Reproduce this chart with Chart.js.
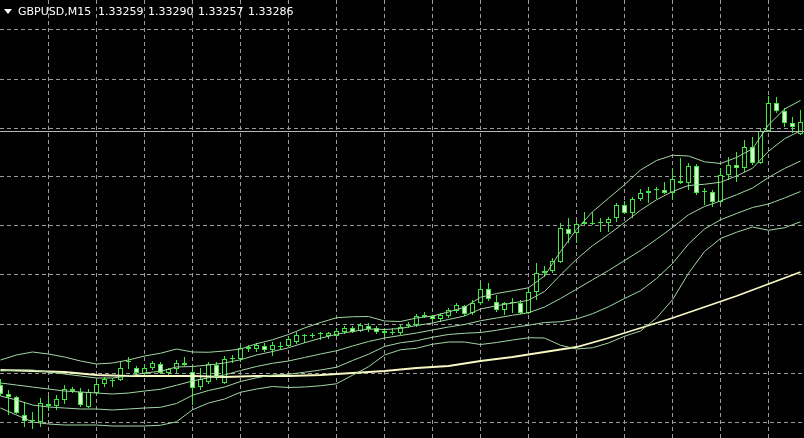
<!DOCTYPE html>
<html>
<head>
<meta charset="utf-8">
<script src="https://cdn.jsdelivr.net/npm/chart.js@4.4.0/dist/chart.umd.min.js"></script>
<style>
html, body { margin:0; padding:0; background:#000; }
#caja { width:804px; height:438px; }
</style>
</head>
<body>
<div id="caja"><canvas id="chartGbp" width="804" height="438"></canvas></div>
<script>
var simbolo = 'GBPUSD,M15'
var cabecera = ['1.33259','1.33290','1.33257','1.33286']
var precioBid = 1.33286

// velas M15, una por indice
var abre = [1.32272,1.32236,1.32224,1.32152,1.32128,1.32124,1.32188,1.32188,1.32212,1.32256,
    1.32244,1.32184,1.32240,1.32276,1.32288,1.32292,1.32364,1.32340,1.32316,1.32340,
    1.32356,1.32320,1.32336,1.32360,1.32324,1.32264,1.32284,1.32352,1.32280,1.32376,
    1.32376,1.32416,1.32416,1.32428,1.32412,1.32424,1.32428,1.32444,1.32468,1.32468,
    1.32476,1.32468,1.32468,1.32484,1.32500,1.32488,1.32508,1.32500,1.32488,1.32480,
    1.32480,1.32508,1.32512,1.32552,1.32548,1.32536,1.32548,1.32568,1.32588,1.32560,
    1.32600,1.32656,1.32604,1.32572,1.32600,1.32600,1.32560,1.32644,1.32728,1.32728,
    1.32764,1.32896,1.32880,1.32924,1.32916,1.32920,1.32920,1.32940,1.32992,1.32960,
    1.33016,1.33048,1.33052,1.33052,1.33040,1.33088,1.33080,1.33148,1.33044,1.33044,
    1.33004,1.33112,1.33152,1.33140,1.33224,1.33160,1.33288,1.33400,1.33368,1.33320,
    1.33276]
var alto = [1.32296,1.32252,1.32228,1.32200,1.32164,1.32220,1.32228,1.32232,1.32272,1.32264,
    1.32260,1.32256,1.32296,1.32304,1.32300,1.32364,1.32384,1.32348,1.32352,1.32368,
    1.32364,1.32340,1.32372,1.32384,1.32344,1.32340,1.32364,1.32364,1.32388,1.32392,
    1.32432,1.32432,1.32440,1.32440,1.32444,1.32444,1.32468,1.32484,1.32476,1.32480,
    1.32484,1.32484,1.32500,1.32508,1.32508,1.32520,1.32520,1.32508,1.32500,1.32500,
    1.32512,1.32524,1.32556,1.32564,1.32552,1.32560,1.32580,1.32600,1.32592,1.32612,
    1.32684,1.32680,1.32632,1.32604,1.32620,1.32612,1.32660,1.32760,1.32748,1.32780,
    1.32920,1.32940,1.32928,1.32964,1.32964,1.32940,1.32944,1.33000,1.33008,1.33024,
    1.33056,1.33064,1.33064,1.33084,1.33140,1.33180,1.33160,1.33156,1.33060,1.33052,
    1.33140,1.33184,1.33204,1.33252,1.33264,1.33300,1.33428,1.33424,1.33380,1.33344,
    1.33372]
var bajo = [1.32228,1.32152,1.32156,1.32104,1.32096,1.32104,1.32168,1.32172,1.32196,1.32240,
    1.32184,1.32180,1.32232,1.32264,1.32264,1.32288,1.32336,1.32308,1.32304,1.32332,
    1.32316,1.32308,1.32320,1.32348,1.32192,1.32252,1.32276,1.32292,1.32276,1.32360,
    1.32364,1.32404,1.32404,1.32404,1.32388,1.32412,1.32424,1.32436,1.32440,1.32460,
    1.32452,1.32456,1.32464,1.32476,1.32480,1.32484,1.32484,1.32476,1.32464,1.32472,
    1.32472,1.32500,1.32504,1.32540,1.32524,1.32524,1.32540,1.32560,1.32548,1.32552,
    1.32592,1.32608,1.32564,1.32552,1.32560,1.32556,1.32556,1.32612,1.32704,1.32720,
    1.32760,1.32840,1.32840,1.32912,1.32912,1.32884,1.32884,1.32924,1.32956,1.32940,
    1.33008,1.33000,1.33016,1.33036,1.33012,1.33076,1.33052,1.33032,1.32992,1.32984,
    1.33000,1.33092,1.33084,1.33124,1.33152,1.33156,1.33284,1.33360,1.33304,1.33280,
    1.33272]
var cierra = [1.32236,1.32224,1.32160,1.32128,1.32132,1.32200,1.32196,1.32216,1.32256,1.32248,
    1.32192,1.32244,1.32276,1.32296,1.32292,1.32340,1.32368,1.32320,1.32340,1.32360,
    1.32320,1.32336,1.32360,1.32352,1.32260,1.32296,1.32356,1.32300,1.32376,1.32380,
    1.32420,1.32424,1.32432,1.32412,1.32432,1.32428,1.32456,1.32472,1.32472,1.32472,
    1.32480,1.32480,1.32488,1.32500,1.32484,1.32512,1.32496,1.32484,1.32480,1.32484,
    1.32504,1.32512,1.32548,1.32544,1.32536,1.32552,1.32572,1.32592,1.32556,1.32600,
    1.32656,1.32616,1.32572,1.32600,1.32604,1.32560,1.32644,1.32720,1.32720,1.32768,
    1.32900,1.32876,1.32916,1.32916,1.32920,1.32924,1.32936,1.32992,1.32960,1.33016,
    1.33040,1.33040,1.33056,1.33040,1.33096,1.33080,1.33148,1.33040,1.33048,1.33004,
    1.33112,1.33152,1.33140,1.33224,1.33160,1.33288,1.33400,1.33368,1.33320,1.33304,
    1.33324]

// Bollinger 20 (desv. 1 y 2), un valor cada 2 velas
var bandaSup2 = [1.32372,1.32392,1.32404,1.32396,1.32384,1.32368,1.32356,1.32360,1.32372,1.32388,
    1.32399,1.32416,1.32404,1.32403,1.32408,1.32416,1.32437,1.32453,1.32474,1.32500,
    1.32522,1.32541,1.32545,1.32546,1.32528,1.32526,1.32540,1.32548,1.32564,1.32583,
    1.32623,1.32638,1.32649,1.32661,1.32708,1.32806,1.32894,1.32965,1.33019,1.33073,
    1.33132,1.33170,1.33191,1.33188,1.33165,1.33158,1.33182,1.33217,1.33312,1.33376,
    1.33410]
var bandaSup1 = [1.32328,1.32332,1.32332,1.32324,1.32316,1.32308,1.32300,1.32300,1.32308,1.32320,
    1.32327,1.32344,1.32346,1.32352,1.32360,1.32373,1.32392,1.32406,1.32421,1.32441,
    1.32459,1.32475,1.32486,1.32496,1.32494,1.32498,1.32510,1.32520,1.32534,1.32548,
    1.32576,1.32589,1.32600,1.32611,1.32646,1.32712,1.32775,1.32829,1.32874,1.32922,
    1.32971,1.33013,1.33046,1.33070,1.33075,1.33083,1.33108,1.33139,1.33207,1.33257,
    1.33289]
var bandaMedia = [1.32280,1.32272,1.32264,1.32256,1.32248,1.32244,1.32240,1.32236,1.32240,1.32248,
    1.32255,1.32271,1.32288,1.32301,1.32312,1.32330,1.32346,1.32359,1.32368,1.32382,
    1.32396,1.32409,1.32428,1.32446,1.32460,1.32470,1.32480,1.32492,1.32504,1.32514,
    1.32529,1.32540,1.32551,1.32561,1.32584,1.32618,1.32655,1.32693,1.32730,1.32770,
    1.32810,1.32855,1.32902,1.32953,1.32986,1.33008,1.33033,1.33060,1.33102,1.33138,
    1.33168]
var bandaInf1 = [1.32228,1.32212,1.32192,1.32184,1.32180,1.32176,1.32176,1.32172,1.32176,1.32180,
    1.32183,1.32198,1.32231,1.32250,1.32264,1.32286,1.32301,1.32312,1.32315,1.32323,
    1.32332,1.32343,1.32370,1.32395,1.32426,1.32441,1.32449,1.32463,1.32474,1.32479,
    1.32482,1.32491,1.32502,1.32511,1.32522,1.32525,1.32536,1.32557,1.32585,1.32618,
    1.32649,1.32698,1.32758,1.32836,1.32896,1.32933,1.32958,1.32982,1.32996,1.33020,
    1.33046]
var bandaInf2 = [1.32180,1.32152,1.32124,1.32116,1.32112,1.32112,1.32112,1.32108,1.32108,1.32108,
    1.32111,1.32125,1.32173,1.32200,1.32216,1.32243,1.32256,1.32266,1.32262,1.32264,
    1.32269,1.32277,1.32311,1.32345,1.32392,1.32413,1.32419,1.32435,1.32444,1.32444,
    1.32434,1.32442,1.32452,1.32461,1.32460,1.32431,1.32416,1.32421,1.32440,1.32467,
    1.32488,1.32540,1.32613,1.32719,1.32806,1.32858,1.32883,1.32904,1.32891,1.32901,
    1.32925]

// media lenta (amarilla), un valor cada 4 velas
var mediaLenta = [1.32332,1.32328,1.32324,1.32312,1.32308,1.32308,1.32308,1.32304,1.32308,1.32308,
    1.32312,1.32320,1.32328,1.32340,1.32348,1.32368,1.32384,1.32404,1.32424,1.32460,
    1.32500,1.32540,1.32584,1.32628,1.32676,1.32724]

// lineas de la rejilla
var rejillaY = [1.32124,1.32320,1.32516,1.32712,1.32908,1.33104,1.33300,1.33496,1.33692]
var rejillaX = [6,12,18,24,30,36,42,48,54,60,66,72,78,84,90,96]

var verde = '#3fe83f'
var blancoVela = '#d8fad0'
var colorBanda = '#a3d6a3'

var velas = abre.map(function(v, i){ return i })

function serie(valores, paso){
    return valores.map(function(v, k){ return {x: k * paso, y: v} })
}

function linea(valores, paso, color, ancho){
    return {
        type: 'line',
        data: serie(valores, paso),
        borderColor: color,
        borderWidth: ancho,
        pointRadius: 0,
        tension: 0,
        order: 0
    }
}

var fondo = {
    id: 'fondo',
    beforeDraw: function(chart){
        let c = chart.ctx
        c.save()
        c.fillStyle = '#000000'
        c.fillRect(0, 0, chart.width, chart.height)
        c.restore()
    }
}

var titulo = {
    id: 'titulo',
    afterDraw: function(chart){
        let c = chart.ctx
        c.save()
        c.fillStyle = '#ffffff'
        c.beginPath()
        c.moveTo(4, 9)
        c.lineTo(12, 9)
        c.lineTo(8, 14)
        c.closePath()
        c.fill()
        c.font = '11px "DejaVu Sans"'
        c.textBaseline = 'alphabetic'
        c.fillText(simbolo, 18, 15)
        let xs = [98, 148, 198, 248]
        cabecera.forEach(function(t, k){ c.fillText(t, xs[k], 15) })
        c.restore()
    }
}

function ejeRejilla(marcas, min, max){
    return {
        type: 'linear',
        min: min,
        max: max,
        offset: false,
        ticks: { display: false },
        grid: { color: '#9a9a9a', lineWidth: 1, drawTicks: false, offset: false },
        border: { display: false, dash: [4, 3] },
        afterBuildTicks: function(eje){
            eje.ticks = marcas.map(function(v){ return {value: v} })
        }
    }
}

var ctx = document.getElementById('chartGbp')
var chartGbp = new Chart(ctx, {
    type: 'bar',
    data: {
        datasets: [
            linea(bandaSup2, 2, colorBanda, 1),
            linea(bandaSup1, 2, colorBanda, 1),
            linea(bandaMedia, 2, colorBanda, 1),
            linea(bandaInf1, 2, colorBanda, 1),
            linea(bandaInf2, 2, colorBanda, 1),
            linea(mediaLenta, 4, '#f8f8c4', 1.8),
            {
                type: 'line',
                data: [{x: -1, y: precioBid}, {x: 102, y: precioBid}],
                borderColor: '#b8b8b8',
                borderWidth: 1,
                pointRadius: 0,
                order: 0
            },
            {
                label: 'mechas',
                data: velas.map(function(i){ return {x: i, y: [bajo[i], alto[i]]} }),
                backgroundColor: verde,
                borderWidth: 0,
                barThickness: 1,
                inflateAmount: 0,
                grouped: false,
                order: 3
            },
            {
                label: 'cuerpos',
                data: velas.map(function(i){ return {x: i, y: [abre[i], cierra[i]]} }),
                backgroundColor: velas.map(function(i){ return cierra[i] >= abre[i] ? '#000000' : blancoVela }),
                borderColor: verde,
                borderWidth: 1,
                borderSkipped: false,
                barThickness: 5,
                inflateAmount: 0,
                grouped: false,
                order: 2
            }
        ]
    },
    options: {
        responsive: false,
        animation: false,
        devicePixelRatio: 1,
        layout: { padding: 0 },
        plugins: {
            legend: { display: false },
            tooltip: { enabled: false },
            title: { display: false }
        },
        scales: {
            x: ejeRejilla(rejillaX, -0.0625, 100.4375),
            y: ejeRejilla(rejillaY, 1.32060, 1.33812)
        }
    },
    plugins: [fondo, titulo]
})
</script>
</body>
</html>
